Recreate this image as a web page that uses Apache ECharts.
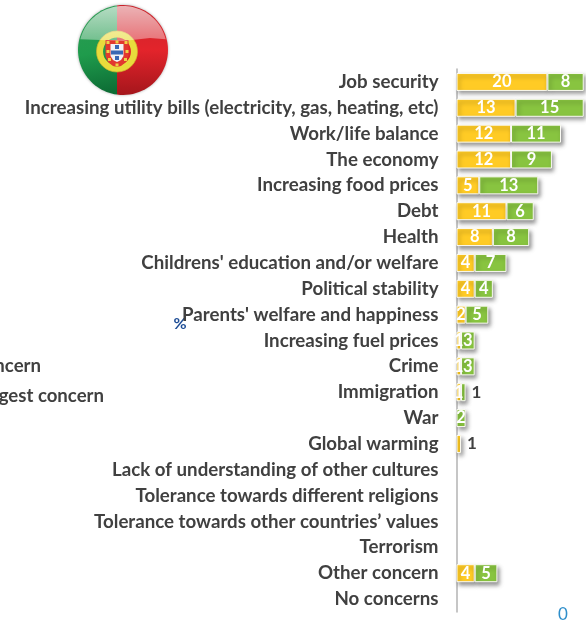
<!DOCTYPE html>
<html>
<head>
<meta charset="utf-8">
<style>html,body{margin:0;padding:0;background:#fff;overflow:hidden}#c{width:586px;height:625px}</style>
<script src="https://cdn.jsdelivr.net/npm/echarts@6/dist/echarts.min.js"></script>
</head>
<body>
<div id="c"></div>
<script>
const categories = [
  "Job security",
  "Increasing utility bills (electricity, gas, heating, etc)",
  "Work/life balance",
  "The economy",
  "Increasing food prices",
  "Debt",
  "Health",
  "Childrens' education and/or welfare",
  "Political stability",
  "Parents' welfare and happiness",
  "Increasing fuel prices",
  "Crime",
  "Immigration",
  "War",
  "Global warming",
  "Lack of understanding of other cultures",
  "Tolerance towards different religions",
  "Tolerance towards other countries’ values",
  "Terrorism",
  "Other concern",
  "No concerns"
];
const biggestConcern = [20, 13, 12, 12, 5, 11, 8, 4, 4, 2, 1, 1, 1, null, 1, null, null, null, null, 4, null];
const otherConcern = [8, 15, 11, 9, 13, 6, 8, 7, 4, 5, 3, 3, 1, 2, null, null, null, null, null, 5, null];

// Rows whose value is printed beside the bar in dark text
const outsideBiggest = ["Global warming"];
const outsideOther = ["Immigration"];

const FONT = "Lato";
const yellow = "#ffcb25";
const green = "#88c440";

function seriesData(values, outside) {
  return values.map((v, i) => {
    if (!outside.includes(categories[i])) return v;
    return { value: v, label: { position: "right", color: "#404040", distance: 6, fontSize: 17 } };
  });
}

function barSeries(name, values, color, outside) {
  return {
    name, type: "bar", stack: "total", barWidth: 18,
    data: seriesData(values, outside),
    itemStyle: {
      color, borderColor: "#fbfbf4", borderWidth: 1,
      shadowColor: "rgba(0,0,0,0.4)", shadowBlur: 4, shadowOffsetX: 2, shadowOffsetY: 3
    },
    label: { show: true, position: "inside", color: "#fff", fontFamily: FONT, fontWeight: 700, fontSize: 16.5 }
  };
}

const chart = echarts.init(document.getElementById("c"), null, { renderer: "canvas" });

const linear = (x0, y0, x1, y1, stops) => ({
  type: "linear", x: x0, y: y0, x2: x1, y2: y1, global: false,
  colorStops: stops.map(([offset, color]) => ({ offset, color }))
});

// Points along a circle between two angles, in degrees clockwise from east
function arc(cx, cy, r, from, to) {
  const pts = [];
  const steps = 48;
  for (let i = 0; i <= steps; i++) {
    const a = (from + (to - from) * i / steps) * Math.PI / 180;
    pts.push([cx + r * Math.cos(a), cy + r * Math.sin(a)]);
  }
  return pts;
}

const CX = 123, CY = 50, R = 45;
const seamAngle = 97.7; // where the green/red seam meets the rim
const capAngle = 14;    // where the glossy cap meets the rim

const shieldOuter = [[105.5, 40], [128.5, 40], [128.5, 56], [126, 62], [121, 66], [117, 67], [113, 66], [108, 62], [105.5, 56]];
const shieldInner = [[110.5, 44], [123.5, 44], [123.5, 56], [121, 60], [117, 62], [113, 60], [110.5, 56]];
const quinas = [[115, 45], [115, 50.5], [115, 56], [111, 50.5], [119, 50.5]];
const castles = [[106.5, 41], [115.5, 40.5], [124.5, 41], [106.5, 50], [125.5, 50], [108, 58], [124, 58], [115.5, 63.5]];

// Round flag badge: two colour fields, armillary ring, shield and a glossy cap
const flag = [
  { type: "circle", z: 1, shape: { cx: CX, cy: CY, r: R }, style: { fill: "#ddd", shadowColor: "rgba(0,0,0,0.35)", shadowBlur: 3 } },
  { type: "polygon", z: 2, shape: { points: arc(CX, CY, R, seamAngle, 360 - seamAngle) }, style: { fill: linear(0, 0, 0.4, 1, [[0, "#2e9c55"], [0.55, "#1f9b4c"], [1, "#0d6d35"]]) } },
  { type: "polygon", z: 2, shape: { points: arc(CX, CY, R, -seamAngle, seamAngle) }, style: { fill: linear(0, 0, 0, 1, [[0, "#c8242c"], [0.5, "#e3242b"], [1, "#a5161c"]]) } },
  { type: "circle", z: 3, shape: { cx: 117, cy: 51.5, r: 17.2 }, style: { fill: "none", stroke: "#e8dc3c", lineWidth: 6.5 } },
  { type: "circle", z: 3, shape: { cx: 117, cy: 51.5, r: 20.5 }, style: { fill: "none", stroke: "#d4b52c", lineWidth: 0.7 } },
  { type: "polygon", z: 3, shape: { points: shieldOuter }, style: { fill: "#e2382f" } }
].concat(
  castles.map(([x, y]) => ({ type: "rect", z: 3, shape: { x, y, width: 3, height: 3 }, style: { fill: "#eed246" } })),
  [{ type: "polygon", z: 3, shape: { points: shieldInner }, style: { fill: "#f2f2f4" } }],
  quinas.map(([x, y]) => ({ type: "rect", z: 3, shape: { x, y, width: 4, height: 4 }, style: { fill: "#3a68b4" } })),
  [{ type: "polygon", z: 4, shape: { points: arc(CX, CY, R - 1, 180 + capAngle, 360 - capAngle).concat([[150, 38], [123, 41], [100, 40]]) }, style: { fill: linear(0, 0, 0, 1, [[0, "rgba(255,255,255,0.65)"], [1, "rgba(255,255,255,0.36)"]]) } }]
);

const looseText = [
  { type: "text", x: 41, y: 366, style: { text: "ncern", align: "right", verticalAlign: "middle", fill: "#404040", font: `700 18.6px ${FONT}` } },
  { type: "text", x: 104, y: 396, style: { text: "gest concern", align: "right", verticalAlign: "middle", fill: "#404040", font: `700 18.6px ${FONT}` } },
  { type: "text", x: 180, y: 324, style: { text: "%", align: "center", verticalAlign: "middle", fill: "#1f4e96", font: `700 16px ${FONT}` } },
  { type: "text", x: 563, y: 615, style: { text: "0", align: "center", verticalAlign: "middle", fill: "#2f8fcb", font: `400 17px ${FONT}` } }
];

chart.setOption({
  animation: false,
  backgroundColor: "#fff",
  grid: { left: 456.5, top: 69, width: 131, height: 543, containLabel: false },
  xAxis: { type: "value", min: 0, max: 28.5, show: false },
  yAxis: {
    type: "category", inverse: true, data: categories,
    axisLine: { show: true, lineStyle: { color: "#b3b3b3", width: 1.5 } },
    axisTick: { show: false },
    axisLabel: { interval: 0, margin: 18, color: "#404040", fontFamily: FONT, fontWeight: 700, fontSize: 18.7, padding: [3, 0, 0, 0] }
  },
  series: [
    barSeries("Biggest concern", biggestConcern, yellow, outsideBiggest),
    barSeries("Other concern", otherConcern, green, outsideOther)
  ],
  graphic: { elements: flag.concat(looseText) }
});
</script>
</body>
</html>
